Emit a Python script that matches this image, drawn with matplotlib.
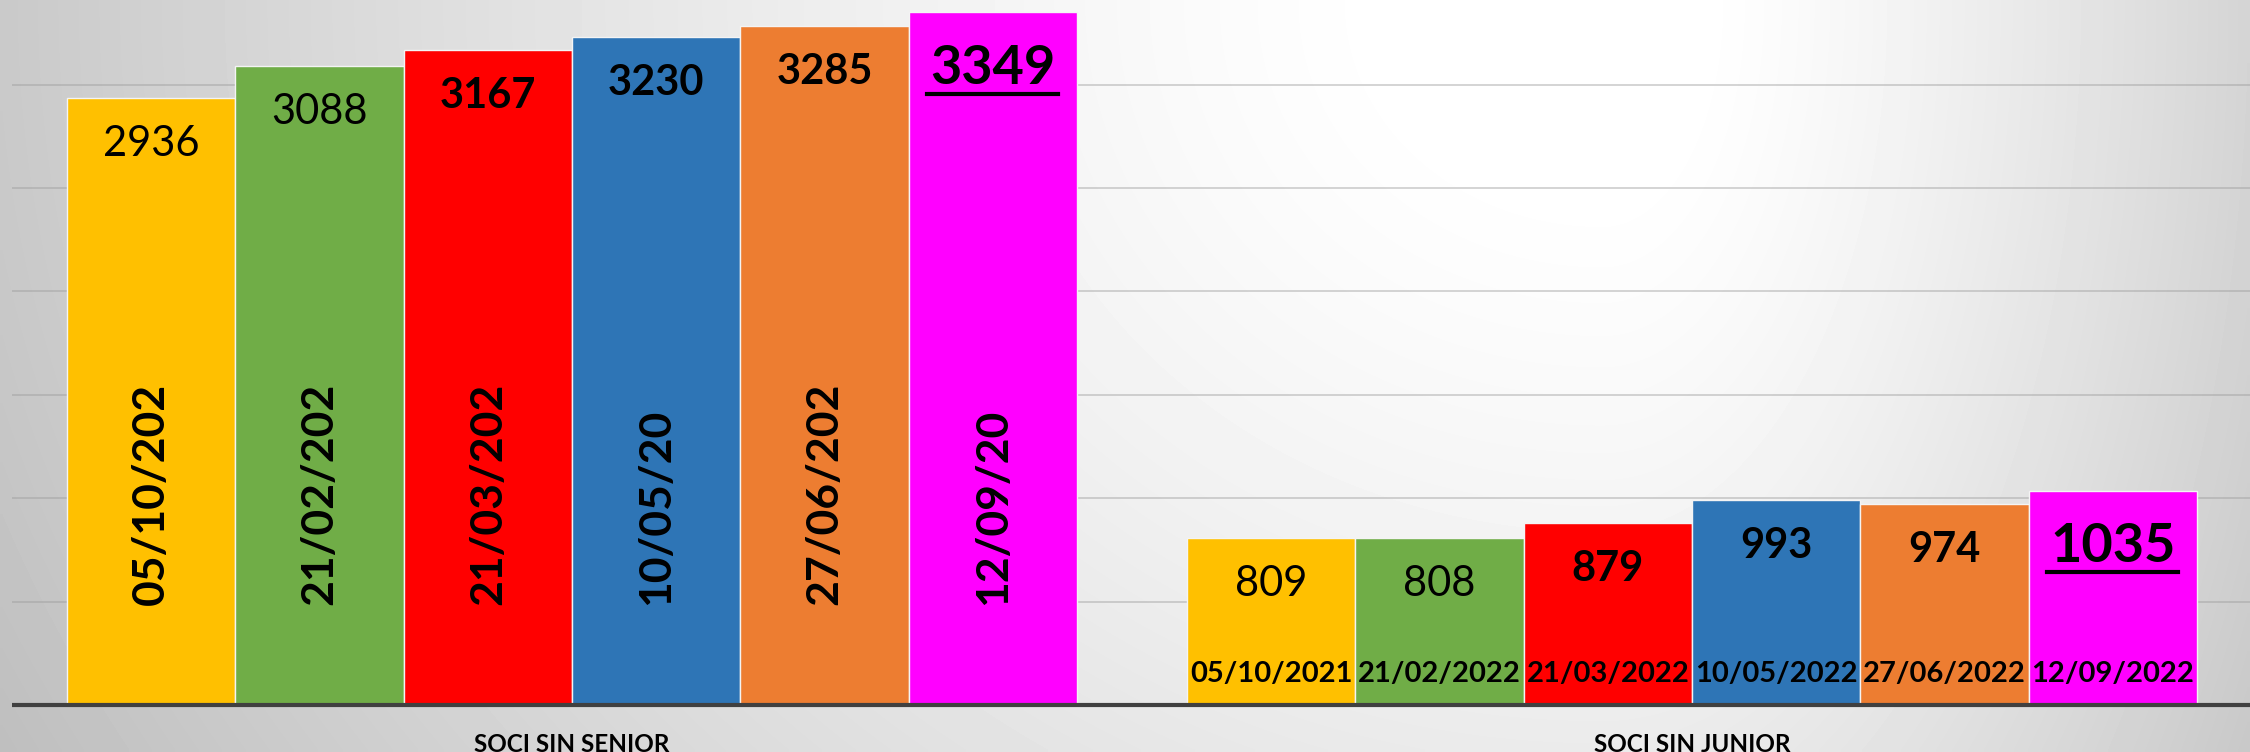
import numpy as np
import matplotlib.pyplot as plt
from matplotlib.lines import Line2D
from matplotlib.transforms import IdentityTransform

plt.rcParams['font.family'] = ['Lato', 'DejaVu Sans']

groups = ['SOCI SIN SENIOR', 'SOCI SIN JUNIOR']
dates = ['05/10/2021', '21/02/2022', '21/03/2022', '10/05/2022', '27/06/2022', '12/09/2022']
senior = [2936, 3088, 3167, 3230, 3285, 3349]
junior = [809, 808, 879, 993, 974, 1035]
# in the senior group the rotated dates are cut off
senior_tags = ['05/10/202', '21/02/202', '21/03/202', '10/05/20', '27/06/202', '12/09/20']
colors = ['#FFC000', '#70AD47', '#FF0000', '#2E75B6', '#ED7D31', '#FF00FF']
value_weight = ['normal', 'normal', 'bold', 'bold', 'bold', 'bold']

W, H = 2250, 752
fig = plt.figure(figsize=(W / 100, H / 100), dpi=100)

# grey background, light in the upper right middle
bg = fig.add_axes([0, 0, 1, 1], zorder=-5)
xx, yy = np.meshgrid(np.arange(0, W, 5), np.arange(0, H, 5))
cx = 1600
sx = np.where(xx < cx, cx, W - cx + 100)
r = np.sqrt(((xx - cx) / sx) ** 2 + (yy / 1400.0) ** 2)
shade = 1 - 0.21 * np.clip((r - 0.12) / 0.88, 0, 1.2) ** 1.3
bg.imshow(shade, cmap='gray', vmin=0, vmax=1, aspect='auto',
          interpolation='bilinear', extent=[0, 1, 0, 1])
bg.axis('off')

# px per unit: 103.4 px per 500; baseline 705 px from top
k = 103.4 / 500
ax = fig.add_axes([12 / W, 0, 2240 / W, 1])
ax.patch.set_alpha(0)
ax.set_xlim(0, 2)
ax.set_ylim(-47 / k, 705 / k)
ax.axis('off')

for g in range(500, 3001, 500):
    ax.axhline(g, color='#9a9a9a', alpha=0.45, lw=1.3, zorder=0)

bw = 1010 / 6 / 1120.5
big = []
for gi, vals in enumerate([senior, junior]):
    c = gi + 0.5
    xs = c + (np.arange(6) - 2.5) * bw
    ax.bar(xs, vals, width=bw, color=colors, edgecolor='#f4f4f4', lw=1, zorder=2)
    for i, (x, v) in enumerate(zip(xs, vals)):
        if i == 5:
            t = ax.annotate(str(v), (x, v), xytext=(0, -51.5), textcoords='offset points',
                            ha='center', va='baseline', fontsize=39, fontweight='bold', zorder=5)
            big.append((t, x, v))
        else:
            ax.annotate(str(v), (x, v), xytext=(0, -41.8), textcoords='offset points',
                        ha='center', va='baseline', fontsize=30,
                        fontweight=value_weight[i], zorder=5)
        if gi == 0:
            ax.annotate(senior_tags[i], (x, 0), xytext=(0, 72), textcoords='offset points',
                        ha='center', va='bottom', rotation=90, fontsize=32,
                        fontweight='bold', zorder=5)
        else:
            ax.annotate(dates[i], (x, 0), xytext=(0, 16.5), textcoords='offset points',
                        ha='center', va='baseline', fontsize=21,
                        fontweight='bold', zorder=5)
    ax.annotate(groups[gi], (c, 0), xytext=(0, -33.5), textcoords='offset points',
                ha='center', va='baseline', fontsize=17.5, fontweight='bold')

ax.axhline(0, color='#404040', lw=3, zorder=4)

# underline the latest value of each group
fig.canvas.draw()
for t, x, v in big:
    bb = t.get_window_extent()
    y = ax.transData.transform((x, v))[1] - 71.5 - 10
    fig.add_artist(Line2D([bb.x0 - 3, bb.x1 + 3], [y, y], color='black', lw=3,
                          transform=IdentityTransform()))

fig.savefig('out.png', dpi=100)
